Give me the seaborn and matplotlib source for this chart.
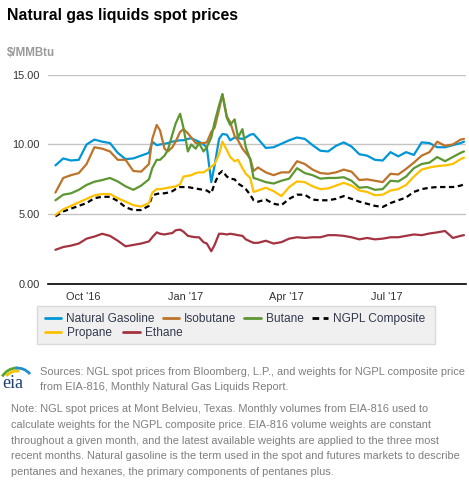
import matplotlib
matplotlib.use('Agg')
import matplotlib.pyplot as plt
import matplotlib.dates as mdates
from matplotlib.lines import Line2D
from matplotlib.patches import Rectangle, Arc
from matplotlib.transforms import IdentityTransform
import pandas as pd
import seaborn as sns

# spot price readings, $/MMBtu (weekly, twice a week over the winter spike)
dates = ['2016-09-06', '2016-09-13', '2016-09-20', '2016-09-27', '2016-10-04', '2016-10-11',
         '2016-10-18', '2016-10-25', '2016-11-01', '2016-11-08', '2016-11-15', '2016-11-22',
         '2016-11-29',
         '2016-12-02', '2016-12-06', '2016-12-09', '2016-12-13', '2016-12-16', '2016-12-20',
         '2016-12-23', '2016-12-27', '2016-12-30', '2017-01-03', '2017-01-06', '2017-01-10',
         '2017-01-13', '2017-01-17', '2017-01-20', '2017-01-24', '2017-01-27', '2017-01-31',
         '2017-02-03', '2017-02-07', '2017-02-10', '2017-02-14', '2017-02-17', '2017-02-21',
         '2017-02-24', '2017-02-28', '2017-03-03',
         '2017-03-07', '2017-03-14', '2017-03-21', '2017-03-28', '2017-04-04', '2017-04-11',
         '2017-04-18', '2017-04-25', '2017-05-02', '2017-05-09', '2017-05-16', '2017-05-23',
         '2017-05-30', '2017-06-06', '2017-06-13', '2017-06-20', '2017-06-27', '2017-07-04',
         '2017-07-11', '2017-07-18', '2017-07-25', '2017-08-01', '2017-08-08', '2017-08-15',
         '2017-08-22', '2017-08-29', '2017-09-05', '2017-09-08']

natural_gasoline = [8.5, 9.0, 8.85, 8.9, 10.0, 10.35, 10.2, 10.1, 9.4, 8.95, 9.0, 9.2, 9.4,
                    10.2, 9.95, 10.0, 10.05, 10.1, 10.2, 10.25, 10.3, 10.3, 10.4, 10.45, 10.3,
                    10.2, 10.0, 9.8, 7.3, 8.5, 10.4, 10.75, 10.7, 10.3, 10.5, 10.45, 10.4,
                    10.5, 10.7, 10.75,
                    10.4, 9.75, 9.8, 10.05, 10.3, 10.5, 10.4, 9.95, 9.55, 9.5, 9.9, 10.15,
                    9.85, 9.3, 9.2, 8.9, 8.85, 9.45, 9.15, 9.45, 9.25, 10.15, 10.1, 9.8,
                    9.8, 9.95, 10.1, 10.2]
isobutane = [6.55, 7.6, 7.8, 7.95, 8.6, 9.8, 9.7, 9.5, 8.9, 8.9, 8.1, 8.05, 8.6,
             10.4, 11.4, 11.0, 9.7, 9.5, 9.8, 10.2, 10.9, 11.1, 10.8, 10.5, 10.1,
             10.1, 10.1, 10.15, 10.9, 11.2, 12.5, 13.6, 12.0, 11.6, 10.6, 10.3, 9.7,
             9.4, 9.0, 8.1,
             8.35, 8.0, 7.8, 8.0, 8.0, 8.8, 8.6, 8.2, 7.95, 7.9, 8.0, 8.2,
             8.05, 7.45, 7.5, 7.4, 7.3, 7.9, 7.85, 8.25, 8.7, 9.2, 9.45, 10.2,
             9.9, 10.0, 10.35, 10.4]
butane = [6.0, 6.4, 6.5, 6.75, 7.1, 7.33, 7.45, 7.6, 7.35, 7.0, 6.75, 7.05, 7.5,
          8.3, 8.9, 8.9, 9.2, 9.6, 10.7, 11.5, 12.2, 11.2, 9.5, 10.0, 9.7,
          10.1, 9.5, 9.8, 10.5, 11.6, 12.8, 13.6, 11.9, 11.4, 11.8, 10.5, 11.1,
          9.8, 8.9, 7.6,
          7.5, 7.3, 7.2, 7.4, 7.55, 8.3, 7.95, 7.8, 7.55, 7.6, 7.6, 7.65,
          7.4, 6.9, 6.95, 6.75, 6.8, 7.4, 7.35, 7.7, 8.3, 8.6, 8.7, 9.1,
          8.8, 9.1, 9.4, 9.5]
ngpl_composite = [4.85, 5.2, 5.4, 5.6, 5.8, 6.15, 6.25, 6.25, 5.95, 5.5, 5.3, 5.3, 5.6,
                  6.35, 6.45, 6.5, 6.5, 6.55, 6.65, 6.8, 6.95, 6.95, 6.95, 6.9, 6.85,
                  6.8, 6.75, 6.7, 6.5, 7.2, 7.9, 8.1, 7.7, 7.55, 7.5, 7.2, 7.0,
                  6.8, 6.4, 6.0,
                  5.9, 6.05, 5.75, 5.65, 6.1, 6.4, 6.4, 6.05, 6.0, 6.0, 6.1, 6.3,
                  6.1, 5.9, 5.75, 5.6, 5.52, 5.8, 6.0, 6.2, 6.6, 6.8, 6.9, 6.95,
                  6.95, 6.95, 7.05, 7.15]
propane = [4.95, 5.35, 5.6, 5.85, 6.1, 6.35, 6.45, 6.45, 6.15, 5.9, 5.65, 5.55, 5.8,
           6.55, 6.8, 6.8, 6.85, 6.9, 6.95, 7.0, 7.15, 7.7, 7.75, 7.8, 7.95,
           8.0, 8.0, 8.15, 8.4, 8.6, 9.3, 10.2, 9.6, 9.1, 8.8, 8.9, 8.3,
           7.9, 7.6, 6.6,
           6.7, 6.9, 6.65, 6.3, 6.95, 7.35, 7.3, 7.0, 6.8, 6.85, 7.05, 7.25,
           7.05, 6.7, 6.6, 6.36, 6.4, 6.7, 6.8, 7.1, 7.7, 8.2, 8.35, 8.45,
           8.5, 8.6, 8.95, 9.05]
ethane = [2.45, 2.65, 2.75, 2.9, 3.25, 3.4, 3.6, 3.45, 3.1, 2.7, 2.8, 2.9, 3.05,
          3.35, 3.7, 3.6, 3.55, 3.6, 3.65, 3.85, 3.9, 3.75, 3.45, 3.4, 3.35,
          3.35, 3.0, 2.9, 2.35, 2.8, 3.6, 3.6, 3.55, 3.6, 3.55, 3.5, 3.45,
          3.2, 3.05, 2.95,
          2.95, 3.1, 2.9, 3.0, 3.25, 3.35, 3.3, 3.35, 3.35, 3.5, 3.5, 3.45,
          3.35, 3.2, 3.3, 3.2, 3.25, 3.35, 3.35, 3.45, 3.55, 3.5, 3.62, 3.7,
          3.8, 3.3, 3.45, 3.5]

series_names = ['Natural Gasoline', 'Isobutane', 'Butane', 'NGPL Composite', 'Propane', 'Ethane']
series_values = [natural_gasoline, isobutane, butane, ngpl_composite, propane, ethane]
colors = {'Natural Gasoline': '#0096d7', 'Isobutane': '#bd732a', 'Butane': '#5d9732',
          'NGPL Composite': '#000000', 'Propane': '#ffc000', 'Ethane': '#a33340'}
dash_map = {'Natural Gasoline': '', 'Isobutane': '', 'Butane': '',
            'NGPL Composite': (2.4, 1.6), 'Propane': '', 'Ethane': ''}

y_ticks = [0, 5, 10, 15]

source_lines = ['Sources: NGL spot prices from Bloomberg, L.P., and weights for NGPL composite price',
                'from EIA-816, Monthly Natural Gas Liquids Report.']
note_lines = ['Note: NGL spot prices at Mont Belvieu, Texas. Monthly volumes from EIA-816 used to',
              'calculate weights for the NGPL composite price. EIA-816 volume weights are constant',
              'throughout a given month, and the latest available weights are applied to the three most',
              'recent months. Natural gasoline is the term used in the spot and futures markets to describe',
              'pentanes and hexanes, the primary components of pentanes plus.']

frames = []
for name, vals in zip(series_names, series_values):
    frames.append(pd.DataFrame({'date': pd.to_datetime(dates), 'price': vals, 'series': name}))
df = pd.concat(frames, ignore_index=True)

W, H = 469, 482


def fx(x):
    return x / W


def fy(y):
    return 1 - y / H


sns.set_style('white')
plt.rcParams['font.family'] = ['Liberation Sans', 'DejaVu Sans']

fig = plt.figure(figsize=(W / 100, H / 100), dpi=100)
ax = fig.add_axes([fx(48), fy(284), (466 - 48) / W, (284 - 74.7) / H])

sns.lineplot(data=df, x='date', y='price', hue='series', style='series',
             hue_order=series_names, style_order=series_names,
             palette=colors, dashes=dash_map, linewidth=1.6,
             estimator=None, legend=False, ax=ax)

ax.set_ylim(0, 15)
ax.set_yticks(y_ticks)
ax.set_yticklabels([f'{v:.2f}' for v in y_ticks])
ax.set_xlim(pd.Timestamp('2016-08-30 08:00'), pd.Timestamp('2017-09-09 20:00'))
ax.xaxis.set_major_locator(mdates.MonthLocator(bymonth=[1, 4, 7, 10]))
ax.xaxis.set_major_formatter(mdates.DateFormatter("%b '%y"))
ax.grid(axis='y', color='#c4c4c4', lw=1)
ax.grid(axis='x', visible=False)
ax.set_axisbelow(True)
for side in ['left', 'right', 'top']:
    ax.spines[side].set_visible(False)
ax.spines['bottom'].set_color('black')
ax.spines['bottom'].set_linewidth(1.2)
ax.tick_params(axis='x', length=4, width=1, color='black', pad=1.5,
               labelsize=7.9, labelcolor='#333333')
ax.tick_params(axis='y', length=0, pad=6, labelsize=7.9, labelcolor='#333333')
ax.set_xlabel('')
ax.set_ylabel('')

# legend box with two flowing rows
fig.add_artist(Rectangle((fx(37), fy(344)), (435 - 37) / W, (344 - 306) / H,
                         transform=fig.transFigure, facecolor='#f0f0f0',
                         edgecolor='#dadada', lw=1, zorder=0))
handles = []
for name in series_names:
    ls = (0, (2.4, 1.6)) if name == 'NGPL Composite' else '-'
    handles.append(Line2D([], [], color=colors[name], lw=2, linestyle=ls))
leg_kw = dict(loc='center left', frameon=False, fontsize=8.6, handlelength=1.35,
              handletextpad=0.45, borderpad=0, borderaxespad=0, labelcolor='#333a4d')
fig.legend(handles[:4], series_names[:4], bbox_to_anchor=(fx(45), fy(319.3)),
           ncol=4, columnspacing=0.65, **leg_kw)
fig.legend(handles[4:], series_names[4:], bbox_to_anchor=(fx(45), fy(333.3)),
           ncol=2, columnspacing=1.0, **leg_kw)

fig.text(fx(7), fy(15.5), 'Natural gas liquids spot prices', fontsize=11.4,
         fontweight='bold', color='black', va='center', ha='left')
fig.text(fx(7), fy(53), '$/MMBtu', fontsize=8.3, fontweight='bold',
         color='#9a9a9a', va='center', ha='left')

for i, line in enumerate(source_lines):
    fig.text(fx(40), fy(371.7 + i * 15.6), line, fontsize=7.9, color='#7f7f7f',
             va='center', ha='left')
for i, line in enumerate(note_lines):
    fig.text(fx(11), fy(409.3 + i * 15.65), line, fontsize=7.9, color='#7f7f7f',
             va='center', ha='left')

# eia logo
fig.text(fx(2), fy(383), 'eia', family=['Liberation Serif', 'DejaVu Serif'],
         fontsize=13, color='#1b3f73', va='center', ha='left')
for r, t1, t2, c in [(17, 90, 150, '#5aa532'), (14, 80, 140, '#f5c400'),
                     (17, 40, 95, '#1e90d0')]:
    fig.add_artist(Arc((17, H - 385), 2 * r, 2 * r, theta1=t1, theta2=t2,
                       transform=IdentityTransform(), color=c, lw=2))

fig.savefig('out.png', dpi=100)
